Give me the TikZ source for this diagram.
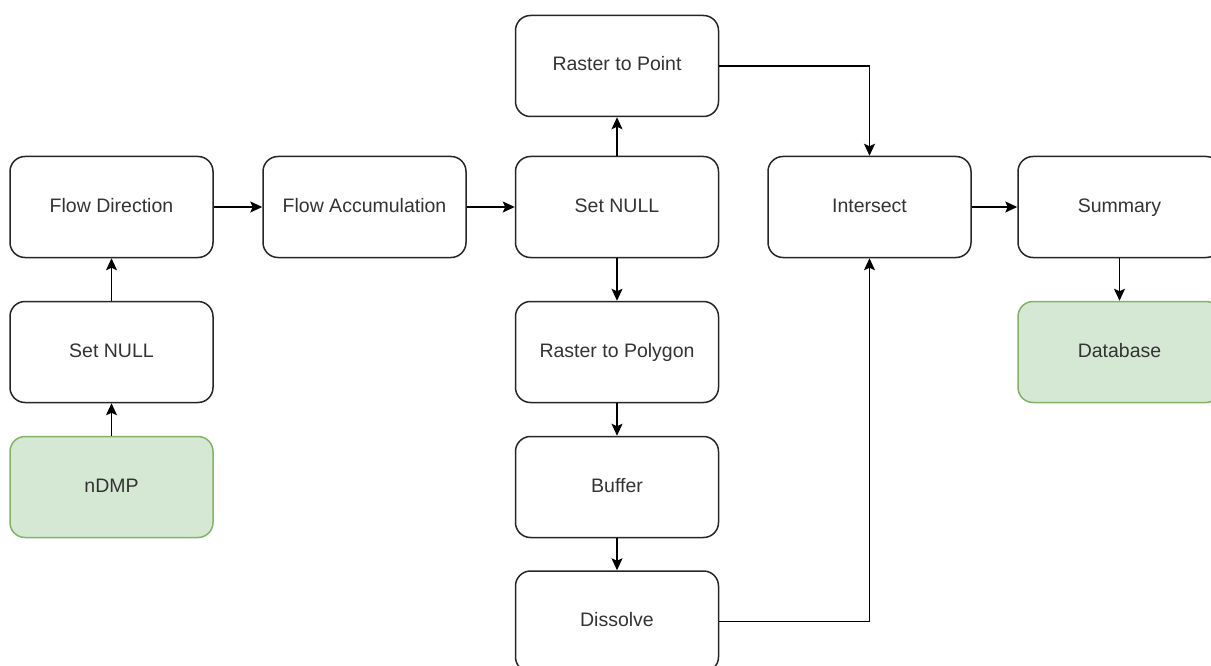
\documentclass[tikz,border=0pt]{standalone}
\usepackage{fontspec}
\setmainfont{Liberation Sans}
\usetikzlibrary{arrows.meta}
\definecolor{gfill}{HTML}{D5E8D4}
\definecolor{gdraw}{HTML}{82B366}
\definecolor{txt}{HTML}{333333}
\tikzset{
  box/.style={draw=black!85, line width=1.5pt, rounded corners=15pt, minimum width=203pt, minimum height=101pt, inner sep=0pt, font=\fontsize{19.5}{22}\selectfont, text=txt, fill=white, text height=14pt, text depth=4pt},
  gbox/.style={box, draw=gdraw, fill=gfill},
  conn/.style={line width=1.5pt, draw=black, -{Stealth[length=12pt,width=11pt,inset=2.5pt]}}
}
\begin{document}
\begin{tikzpicture}[x=1pt,y=-1pt]
\clip (0,0) rectangle (1211,666);
\fill[white] (0,0) rectangle (1211,666);
\node[box]  (fd)    at (111.5,207)   {Flow Direction};
\node[box]  (sn1)   at (111.5,352)   {Set NULL};
\node[gbox] (ndmp)  at (111.5,487)   {nDMP};
\node[box]  (fa)    at (364.5,207)   {Flow Accumulation};
\node[box]  (sn2)   at (617,207)     {Set NULL};
\node[box]  (rtp)   at (617,66)      {Raster to Point};
\node[box]  (rpoly) at (617,352)     {Raster to Polygon};
\node[box]  (buf)   at (617,487)     {Buffer};
\node[box]  (dis)   at (617,621.5)   {Dissolve};
\node[box]  (inter) at (869.5,207)   {Intersect};
\node[box]  (sum)   at (1119.5,207)  {Summary};
\node[gbox] (db)    at (1119.5,352)  {Database};
\draw[conn] (ndmp) -- (sn1);
\draw[conn] (sn1) -- (fd);
\draw[conn] (fd) -- (fa);
\draw[conn] (fa) -- (sn2);
\draw[conn] (sn2) -- (rtp);
\draw[conn] (sn2) -- (rpoly);
\draw[conn] (rpoly) -- (buf);
\draw[conn] (buf) -- (dis);
\draw[conn] (rtp.east) -| (inter.north);
\draw[conn] (dis.east) -| (inter.south);
\draw[conn] (inter) -- (sum);
\draw[conn] (sum) -- (db);
\end{tikzpicture}
\end{document}
